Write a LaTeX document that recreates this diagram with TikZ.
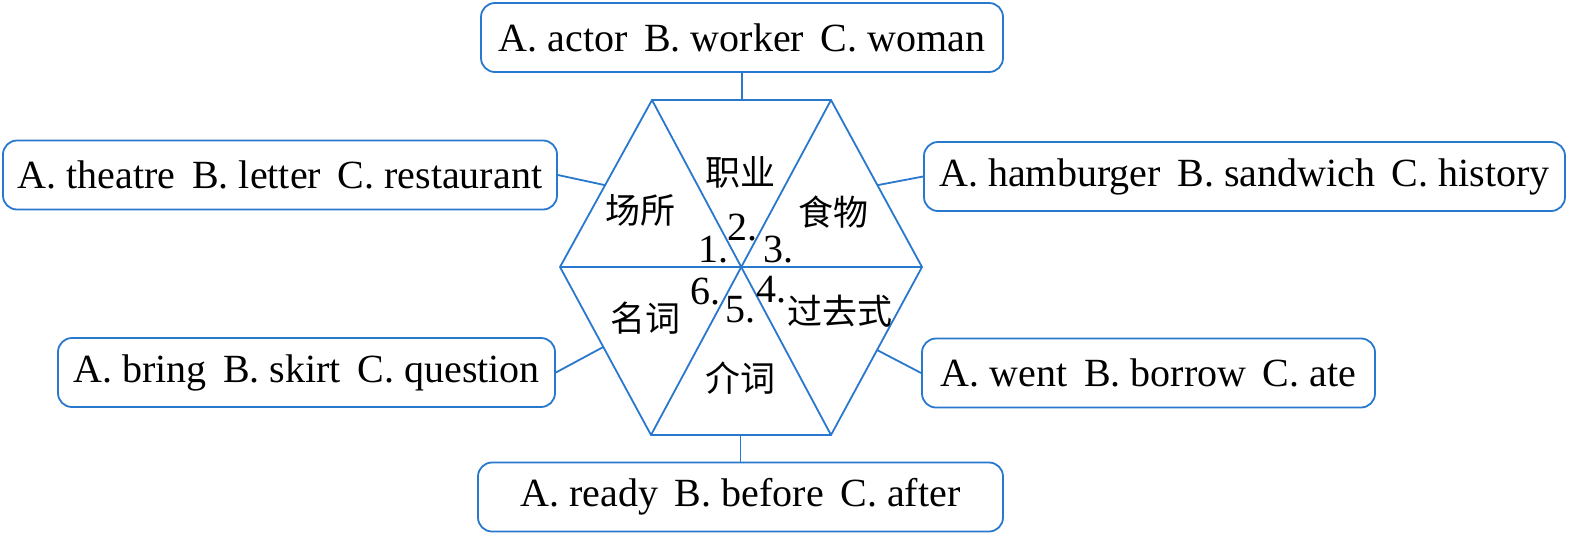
\documentclass[tikz,border=0pt]{standalone}
\usepackage{fontspec}
\setmainfont{Liberation Serif}
\newfontfamily\cjk{Noto Sans CJK SC}
\usetikzlibrary{calc}
\definecolor{hexblue}{RGB}{40,120,205}
\begin{document}
\begin{tikzpicture}[x=1pt,y=-1pt,
  optbox/.style={draw=hexblue,line width=1.8pt,rounded corners=14pt,minimum height=69pt,inner sep=0pt,font=\fontsize{40}{42}\selectfont},
  link/.style={draw=hexblue,line width=1.8pt},
  cat/.style={inner sep=0pt,font=\cjk\fontsize{35}{38}\selectfont},
  num/.style={inner sep=0pt,font=\fontsize{40}{42}\selectfont}]
\useasboundingbox (0,0) rectangle (1590,544);
% hexagon
\coordinate (TL) at (652,100);
\coordinate (TR) at (831,100);
\coordinate (R) at (922,267);
\coordinate (BR) at (831,435);
\coordinate (BL) at (651,435);
\coordinate (L) at (560,267);
\coordinate (O) at (741,267);
\draw[link,line join=miter] (TL) -- (TR) -- (R) -- (BR) -- (BL) -- (L) -- cycle;
\draw[link] (L) -- (R);
\draw[link] (TL) -- (BR);
\draw[link] (TR) -- (BL);
% boxes
\node[optbox,minimum width=522pt] (top) at (742,37.5) {A. actor\, B. worker\, C. woman};
\node[optbox,minimum width=554pt] (lt) at (280,175) {A. theatre\, B. letter\, C. restaurant};
\node[optbox,minimum width=641pt] (rt) at (1244.5,176.5) {A. hamburger\, B. sandwich\, C. history};
\node[optbox,minimum width=497pt] (lb) at (306.5,372.5) {A. bring\, B. skirt\, C. question};
\node[optbox,minimum width=453pt] (rb) at (1148.5,373) {A. went\, B. borrow\, C. ate};
\node[optbox,minimum width=525pt] (bot) at (740.5,497) {A. ready\, B. before\, C. after};
% connector ends on hexagon
\coordinate (ct) at ($(TL)!0.49!(TR)$);
\coordinate (cb) at ($(BL)!0.49!(BR)$);
\coordinate (clt) at ($(L)!0.49!(TL)$);
\coordinate (crt) at ($(R)!0.49!(TR)$);
\coordinate (clb) at ($(L)!0.476!(BL)$);
\coordinate (crb) at ($(R)!0.494!(BR)$);
\draw[link] (top.south) -- (top.south |- ct);
\draw[link] (bot.north) -- (bot.north |- cb);
\draw[link] (lt.east) -- (clt);
\draw[link] (rt.west) -- (crt);
\draw[link] (lb.east) -- (clb);
\draw[link] (rb.west) -- (crb);
% categories
\node[cat] (c1) at (740,172) {职业};
\node[cat] (c2) at (640,210) {场所};
\node[cat] (c3) at (833,212) {食物};
\node[cat] (c4) at (645,318) {名词};
\node[cat] (c5) at (840,311) {过去式};
\node[cat] (c6) at (740,378) {介词};
% numbers
\node[num] (n2) at (742,228) {2.};
\node[num] (n1) at (713,250) {1.};
\node[num] (n3) at (778,250) {3.};
\node[num] (n6) at (705,292) {6.};
\node[num] (n5) at (740,310) {5.};
\node[num] (n4) at (771,290) {4.};
\end{tikzpicture}
\end{document}
